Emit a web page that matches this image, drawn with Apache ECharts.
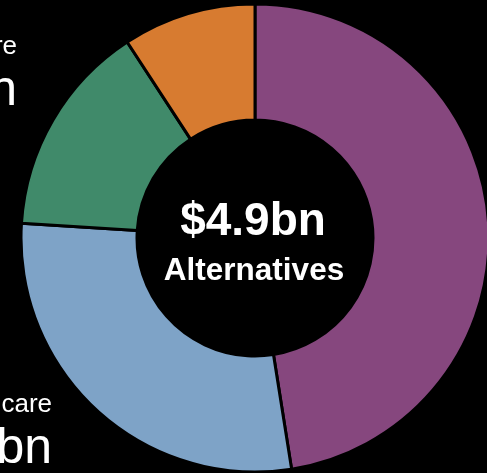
<!DOCTYPE html>
<html>
<head>
<meta charset="utf-8">
<style>
  html, body { margin: 0; padding: 0; background: #000; }
  #chart { width: 487px; height: 473px; }
</style>
<script src="https://cdn.jsdelivr.net/npm/echarts@6/dist/echarts.min.js"></script>
</head>
<body>
<div id="chart"></div>
<script>
// Allocation of the alternatives book, share of total (%)
const segments = ['Private Equity', 'Healthcare', 'Infrastructure', 'Real Estate'];
const shares = [47.5, 28.5, 14.8, 9.2];
const colors = ['#86477e', '#7ea3c7', '#408a6a', '#d77b30'];

const totalLabel = '$4.9bn';
const centerCaption = 'Alternatives';

// Side call-outs (partly outside the canvas on the left)
const calloutNames = ['Infrastructure', 'Healthcare'];
const calloutValues = ['$0.7bn', '$1.4bn'];
const calloutRight = [17, 52];
const calloutBaseline = [54, 412];

const FAMILY = 'Liberation Sans';
const chart = echarts.init(document.getElementById('chart'));

function txt(x, y, text, size, weight, align) {
  return {
    type: 'text', x: x, y: y,
    style: {
      text: text, fill: '#fff',
      fontFamily: FAMILY, fontSize: size, fontWeight: weight,
      align: align, verticalAlign: 'bottom'
    }
  };
}

const graphics = [
  txt(253, 245, totalLabel, 46, 'bold', 'center'),
  txt(254, 287, centerCaption, 31.5, 'bold', 'center')
];
calloutNames.forEach((name, i) => {
  graphics.push(txt(calloutRight[i], calloutBaseline[i] + 6, name, 26, 'normal', 'right'));
  graphics.push(txt(calloutRight[i], calloutBaseline[i] + 51 + 11, calloutValues[i], 50, 'normal', 'right'));
});

chart.setOption({
  backgroundColor: '#000',
  animation: false,
  graphic: graphics,
  series: [{
    type: 'pie',
    center: [255, 238],
    radius: [118, 234],
    startAngle: 90,
    clockwise: true,
    label: { show: false },
    labelLine: { show: false },
    itemStyle: { borderColor: '#000', borderWidth: 3 },
    emphasis: { disabled: true },
    data: segments.map((name, i) => ({
      name, value: shares[i], itemStyle: { color: colors[i] }
    }))
  }]
});
</script>
</body>
</html>
